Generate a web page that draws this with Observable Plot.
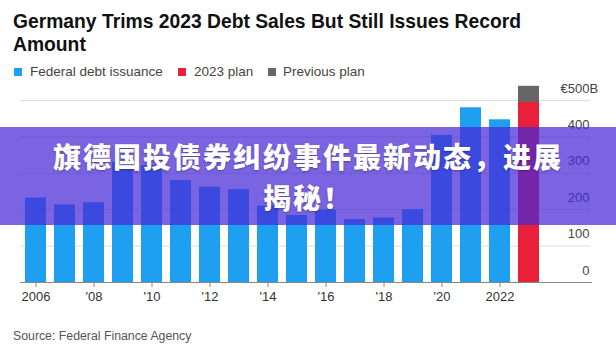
<!DOCTYPE html>
<html>
<head>
<meta charset="utf-8">
<script src="https://cdn.jsdelivr.net/npm/d3@7"></script>
<script src="https://cdn.jsdelivr.net/npm/@observablehq/plot@0.6"></script>
<style>
  html, body { margin: 0; padding: 0; background: #fff; }
  #root { position: relative; width: 616px; height: 352px; overflow: hidden; font-family: "Liberation Sans", Arial, sans-serif; }
  #title { position: absolute; left: 13px; top: 10px; font-size: 19.3px; line-height: 23px; font-weight: bold; color: #111; white-space: nowrap; }
  .leg { position: absolute; top: 64px; font-size: 13.5px; line-height: 16px; color: #444; white-space: nowrap; }
  .sw { position: absolute; top: 68px; width: 8px; height: 8px; }
  #chart { position: absolute; left: 0; top: 80px; }
  #source { position: absolute; left: 13px; top: 328px; font-size: 12.3px; line-height: 16px; color: #555; }
  #overlay { position: absolute; left: 0; top: 127px; width: 616px; height: 98px; background: rgba(70,40,215,0.72);
    color: #fff; font-family: "Noto Sans CJK SC", sans-serif; font-weight: 900; font-size: 28px; line-height: 41px; letter-spacing: 2px;
    text-align: center; box-sizing: border-box; padding-top: 9px; text-shadow: 0 1px 2px rgba(0,0,0,0.35); }
</style>
</head>
<body>
<div id="root">
  <div id="title">Germany Trims 2023 Debt Sales But Still Issues Record<br>Amount</div>
  <div class="sw" style="left:14px;background:#1e9ff0"></div><div class="leg" style="left:30px">Federal debt issuance</div>
  <div class="sw" style="left:178px;background:#e8203a"></div><div class="leg" style="left:194px">2023 plan</div>
  <div class="sw" style="left:268px;background:#666"></div><div class="leg" style="left:283px">Previous plan</div>
  <div id="chart"></div>
  <div id="source">Source: Federal Finance Agency</div>
  <div id="overlay">旗德国投债券纠纷事件最新动态，进展<br>揭秘！</div>
</div>
<script>
const years = [2006,2007,2008,2009,2010,2011,2012,2013,2014,2015,2016,2017,2018,2019,2020,2021,2022,2023];
const issuanceYears = [2006,2007,2008,2009,2010,2011,2012,2013,2014,2015,2016,2017,2018,2019,2020,2021,2022];
const issuance = [232,213,219,330,321,280,262,255,210,184,199,173,177,200,404,480,447];
const planYear = [2023];
const plan2023 = [495];
const previousPlan = [539];
const xTicks = [2006,2008,2010,2012,2014,2016,2018,2020,2022];
const xTickLabels = ["2006","'08","'10","'12","'14","'16","'18","'20","2022"];
const yTicks = [0,100,200,300,400,500];
const yTickLabels = ["0","100","200","300","400","€500"];

const issuanceData = issuanceYears.map((y, i) => ({year: y, value: issuance[i]}));
const planData = planYear.map((y, i) => ({year: y, value: plan2023[i]}));
const prevData = planYear.map((y, i) => ({year: y, value: previousPlan[i]}));

const chart = Plot.plot({
  width: 616,
  height: 230,
  marginLeft: 11.4,
  marginRight: 64.1,
  marginTop: 20,
  marginBottom: 28,
  style: {fontFamily: "'Liberation Sans', Arial, sans-serif", fontSize: "13px", background: "transparent"},
  x: {type: "band", domain: years, padding: 0.29, axis: null},
  y: {domain: [0, 500], axis: null},
  marks: [
    Plot.ruleY(yTicks.filter(d => d > 0), {stroke: "#dcdcdc", strokeWidth: 1, insetLeft: 8.6, insetRight: -38}),
    Plot.barY(prevData, {x: "year", y: "value", fill: "#666"}),
    Plot.barY(planData, {x: "year", y: "value", fill: "#e8203a"}),
    Plot.barY(issuanceData, {x: "year", y: "value", fill: "#1e9ff0"}),
    Plot.ruleY([0], {stroke: "#888", strokeWidth: 1, insetLeft: 8.6, insetRight: -40}),
    Plot.axisX({ticks: xTicks, tickFormat: d => xTickLabels[xTicks.indexOf(d)], tickSize: 5, tickPadding: 4, stroke: "#888", color: "#333", fontSize: 13, label: null}),
    Plot.text(yTicks, {y: d => d, text: d => yTickLabels[yTicks.indexOf(d)], frameAnchor: "right", textAnchor: "end", dx: 37, dy: -12, fill: "#444", fontSize: 13}),
    Plot.text([500], {y: d => d, text: () => "B", frameAnchor: "right", textAnchor: "start", dx: 37, dy: -12, fill: "#444", fontSize: 13})
  ]
});
document.getElementById("chart").appendChild(chart);
</script>
</body>
</html>
